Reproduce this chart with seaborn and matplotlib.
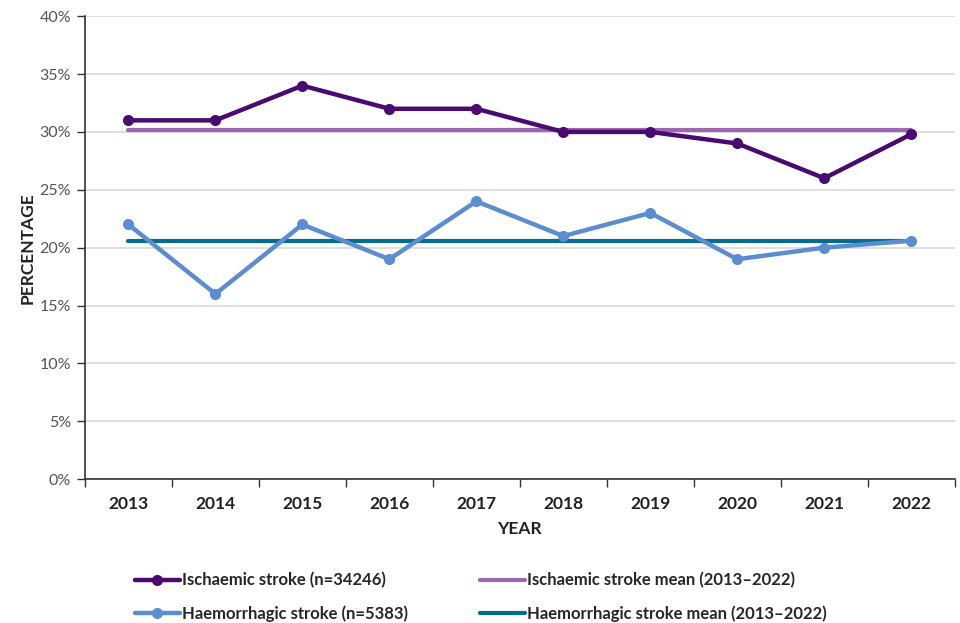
import pandas as pd
import numpy as np
import matplotlib.pyplot as plt
import seaborn as sns
from matplotlib.ticker import FixedLocator, FuncFormatter

years = ["2013", "2014", "2015", "2016", "2017", "2018", "2019", "2020", "2021", "2022"]
ischaemic = [31, 31, 34, 32, 32, 30, 30, 29, 26, 29.8]
haemorrhagic = [22, 16, 22, 19, 24, 21, 23, 19, 20, 20.6]
ischaemic_mean = [30.2] * len(years)
haemorrhagic_mean = [20.6] * len(years)

labels = [
    "Ischaemic stroke (n=34246)",
    "Haemorrhagic stroke (n=5383)",
    "Ischaemic stroke mean (2013\u20132022)",
    "Haemorrhagic stroke mean (2013\u20132022)",
]
colors = ["#4a0a70", "#5b8dcf", "#9b67b3", "#046c8e"]

df = pd.DataFrame({
    "x": np.arange(len(years)),
    "isch": ischaemic,
    "haem": haemorrhagic,
    "isch_mean": ischaemic_mean,
    "haem_mean": haemorrhagic_mean,
})

sns.set_style("white")
plt.rcParams["font.family"] = ["Lato", "DejaVu Sans"]

fig = plt.figure(figsize=(9.6, 6.23), dpi=100)
ax = fig.add_axes([0.0885, 0.231, 0.906, 0.743])

sns.lineplot(data=df, x="x", y="isch_mean", ax=ax, color=colors[2], linewidth=3, label=labels[2], zorder=2)
sns.lineplot(data=df, x="x", y="haem_mean", ax=ax, color=colors[3], linewidth=3, label=labels[3], zorder=2)
sns.lineplot(data=df, x="x", y="isch", ax=ax, color=colors[0], linewidth=3.2, marker="o",
             markersize=8, markeredgewidth=0, label=labels[0], zorder=3)
sns.lineplot(data=df, x="x", y="haem", ax=ax, color=colors[1], linewidth=3.2, marker="o",
             markersize=8, markeredgewidth=0, label=labels[1], zorder=3)

ax.set_xlim(-0.5, len(years) - 0.5)
ax.set_ylim(0, 40)
ax.set_yticks(range(0, 41, 5))
ax.yaxis.set_major_formatter(FuncFormatter(lambda v, p: f"{int(v)}%"))
ax.set_xticks(range(len(years)))
ax.set_xticklabels(years, fontweight="bold", fontsize=12.5, color="#222222")
ax.xaxis.set_minor_locator(FixedLocator(np.arange(-0.5, len(years), 1.0)))
ax.tick_params(axis="x", which="major", length=0, pad=12)
ax.tick_params(axis="x", which="minor", length=6, width=1, color="#333333", bottom=True)
ax.tick_params(axis="y", length=6, width=1, color="#333333", left=True, labelsize=11.5,
               labelcolor="#555555", pad=4)

ax.grid(axis="y", color="#d9d9d9", linewidth=1.2)
ax.set_axisbelow(True)
for s in ["top", "right"]:
    ax.spines[s].set_visible(False)
for s in ["left", "bottom"]:
    ax.spines[s].set_color("#333333")
    ax.spines[s].set_linewidth(1.2)

ax.set_xlabel("YEAR", fontweight="bold", fontsize=12.5, color="#222222", labelpad=7)
ax.set_ylabel("PERCENTAGE", fontweight="bold", fontsize=12.5, color="#222222", labelpad=3)

handles, hl = ax.get_legend_handles_labels()
order = [hl.index(l) for l in labels]
ax.legend([handles[i] for i in order], [hl[i] for i in order], ncol=2,
          loc="upper left", bbox_to_anchor=(0.04, -0.169), frameon=False,
          handlelength=2.7, handletextpad=0.15, columnspacing=4.3,
          labelspacing=1.0, prop={"weight": "bold", "size": 12})

fig.savefig("out.png", dpi=100)
